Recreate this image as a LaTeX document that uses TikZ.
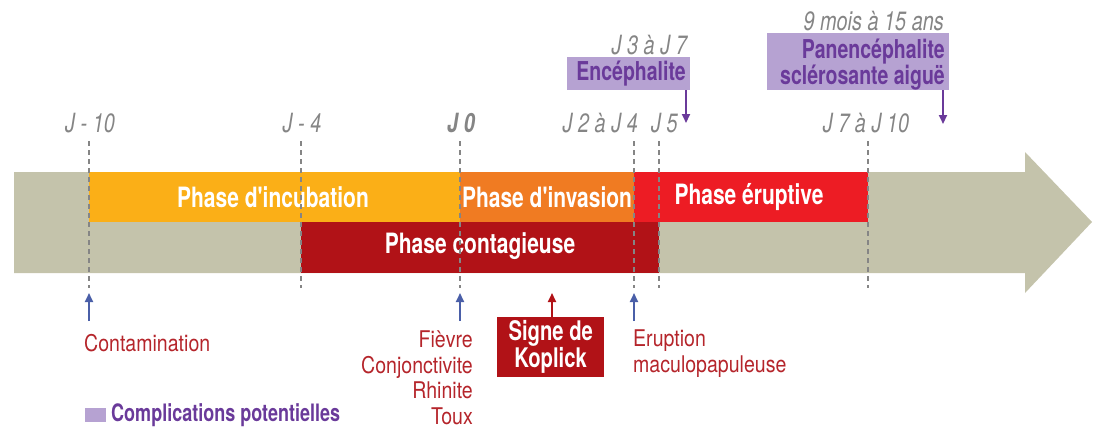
\documentclass[tikz,border=0pt]{standalone}
\usepackage{fontspec}
\setmainfont{TeX Gyre Heros}[FakeStretch=0.75, Ligatures=TeXOff]
\newfontfamily\symfont{TeX Gyre Heros}[FakeStretch=0.85, Ligatures=TeXOff]
\usetikzlibrary{arrows.meta}
\definecolor{band}{HTML}{C4C3AB}
\definecolor{incub}{HTML}{FBAF17}
\definecolor{invas}{HTML}{F07B22}
\definecolor{erupt}{HTML}{ED1C24}
\definecolor{conta}{HTML}{B11217}
\definecolor{lav}{HTML}{B6A2D2}
\definecolor{purp}{HTML}{6A3A9A}
\definecolor{bluearr}{HTML}{4A5FA8}
\definecolor{redtxt}{HTML}{B5252B}
\definecolor{daygray}{HTML}{858585}
\tikzset{
  phase/.style={font=\fontsize{28}{30}\selectfont\bfseries, text=white, inner sep=0pt},
  day/.style={font=\fontsize{26.5}{28}\selectfont\itshape, text=daygray, inner sep=0pt},
  symp/.style={font=\symfont\fontsize{23}{25.4}\selectfont, text=redtxt, inner sep=0pt},
  compl/.style={font=\fontsize{26}{22.5}\selectfont\bfseries, text=purp, inner sep=0pt},
  dashline/.style={daygray, line width=1.2pt, dash pattern=on 5pt off 4pt},
  uparrow/.style={bluearr, line width=2pt, -{Triangle[length=9pt,width=8pt]}},
  downarrow/.style={purp, line width=2pt, -{Triangle[length=9pt,width=8pt]}},
}
\begin{document}
\begin{tikzpicture}[x=1pt,y=-1pt]
\useasboundingbox (0,0) rectangle (1095,429);
% main arrow
\fill[band] (14,172) -- (1025,172) -- (1025,152) -- (1092,222) -- (1025,293) -- (1025,273) -- (14,273) -- cycle;
% phases
\fill[incub] (89,172) rectangle (460,222);
\fill[invas] (460,172) rectangle (634,222);
\fill[erupt] (634,172) rectangle (868,222);
\fill[conta] (301,222) rectangle (659,273);
\node[phase] (incub) at (273,197) {Phase d'incubation};
\node[phase] (invas) at (547,197) {Phase d'invasion};
\node[phase] (erupt) at (749,197) {Phase éruptive};
\node[phase] (conta) at (480,246) {Phase contagieuse};
% dashed lines
\foreach \x/\n in {89/a,301/b,460/c,634/d,659/e,868/f}{
  \coordinate (t\n) at (\x,141);
  \coordinate (b\n) at (\x,288);
  \draw[dashline] (t\n) -- (b\n);
}
% day labels
\node[day] (d10) at (90,123) {J - 10};
\node[day] (d4) at (302,123) {J - 4};
\node[day, font=\fontsize{26.5}{28}\selectfont\bfseries\itshape] (d0) at (461,123) {J 0};
\node[day, anchor=east] (d24) at (638,123) {J 2 à J 4};
\node[day, anchor=west] (d5) at (651,123) {J 5};
\node[day] (d710) at (866,123) {J 7 à J 10};
% complications
\node[draw=none, fill=lav, minimum width=123pt, minimum height=33pt, anchor=north west, inner sep=0pt] (encbox) at (567,57) {};
\node[compl, anchor=east] (enc) at (686,74) {Encéphalite};
\node[day, anchor=south east] (d37) at (687,55) {J 3 à J 7};
\coordinate (enctip) at (686,123);
\draw[downarrow] (686,90) -- (enctip);
\node[draw=none, fill=lav, minimum width=182pt, minimum height=57pt, anchor=north west, inner sep=0pt] (psbox) at (767,33) {};
\node[compl, anchor=north east, align=right] (pse) at (945,39) {Panencéphalite\\sclérosante aiguë};
\node[day, anchor=south east] (d915) at (944,31) {9 mois à 15 ans};
\coordinate (pstip) at (943,124);
\draw[downarrow] (943,90) -- (pstip);
% bottom symptoms
\coordinate (ca) at (89,321);
\coordinate (cb) at (460,321);
\coordinate (cc) at (634,321);
\draw[uparrow] (ca) -- (89,293);
\draw[uparrow] (cb) -- (460,293);
\draw[uparrow] (cc) -- (634,293);
\node[symp, anchor=west] (contam) at (84,343) {Contamination};
\node[symp, anchor=north east, align=right] (fievre) at (473,331) {Fièvre\\Conjonctivite\\Rhinite\\Toux};
\node[symp, anchor=north west, align=left] (erupt2) at (633,330) {Eruption\\maculopapuleuse};
\node[fill=conta, minimum width=107pt, minimum height=60pt, inner sep=0pt, anchor=north west] (kbox) at (497,317) {};
\node[font=\fontsize{27}{26}\selectfont\bfseries, text=white, align=center, inner sep=0pt] (kop) at (kbox.center) {Signe de\\Koplick};
\draw[conta, line width=2pt, -{Triangle[length=9pt,width=8pt]}] (kbox.north -| 552,0) -- (552,293);
% legend
\node[fill=lav, minimum width=21pt, minimum height=14pt, inner sep=0pt] (leg) at (95,415) {};
\node[compl, font=\fontsize{24}{24}\selectfont\bfseries, anchor=west] (legt) at (111,415) {Complications potentielles};
\end{tikzpicture}
\end{document}
